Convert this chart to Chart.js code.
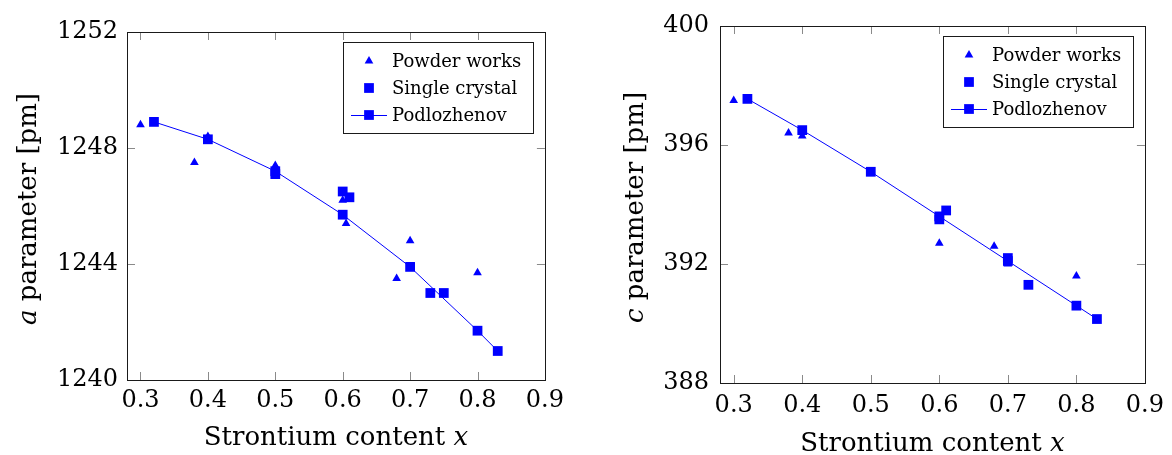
<!DOCTYPE html>
<html>
<head>
<meta charset="utf-8">
<script src="https://cdn.jsdelivr.net/npm/chart.js@4.4.1/dist/chart.umd.min.js"></script>
<style>
    html, body { margin: 0; padding: 0; background: #fff; }
    body { width: 1172px; height: 455px; position: relative; overflow: hidden; }
    canvas { position: absolute; top: 0; }
</style>
</head>
<body>
<canvas id="chartA" width="570" height="455" style="left: 0px;"></canvas>
<canvas id="chartC" width="572" height="455" style="left: 600px;"></canvas>
<script>
// Strontium content x for each series
const podX = [0.32, 0.40, 0.50, 0.60, 0.70, 0.80, 0.83];

// a parameter [pm]
const aPowderX = [0.30, 0.38, 0.40, 0.50, 0.60, 0.605, 0.68, 0.70, 0.80];
const aPowderY = [1248.8, 1247.5, 1248.4, 1247.4, 1246.2, 1245.4, 1243.5, 1244.8, 1243.7];
const aSingleX = [0.50, 0.60, 0.61, 0.73, 0.75];
const aSingleY = [1247.1, 1246.5, 1246.3, 1243.0, 1243.0];
const aPodY = [1248.9, 1248.3, 1247.2, 1245.7, 1243.9, 1241.7, 1241.0];

// c parameter [pm]
const cPowderX = [0.30, 0.38, 0.40, 0.60, 0.68, 0.70, 0.80];
const cPowderY = [397.5, 396.4, 396.3, 392.7, 392.6, 392.0, 391.6];
const cSingleX = [0.60, 0.61, 0.70, 0.73];
const cSingleY = [393.5, 393.8, 392.2, 391.3];
const cPodY = [397.55, 396.5, 395.1, 393.6, 392.1, 390.6, 390.15];

const xTicks = [0.3, 0.4, 0.5, 0.6, 0.7, 0.8, 0.9];
const aTicks = [1240, 1244, 1248, 1252];
const cTicks = [388, 392, 396, 400];

const seriesNames = ['Powder works', 'Single crystal', 'Podlozhenov'];

const BLUE = '#0000ff';
const FONT = "'DejaVu Serif', 'Liberation Serif', serif";

const toPoints = (xs, ys) => xs.map((x, i) => ({ x, y: ys[i] }));

// frame, inward tick marks, axis titles with italic symbols, boxed legend
const decorPlugin = {
    id: 'decor',
    afterDraw(chart, args, opts) {
        const { ctx, chartArea: area, scales } = chart;
        const px = (v) => Math.round(v) + 0.5;

        ctx.save();
        // tick marks (inside the frame, on both sides)
        ctx.strokeStyle = '#8a8a8a';
        ctx.lineWidth = 1;
        ctx.beginPath();
        scales.x.ticks.forEach((t) => {
            const x = px(scales.x.getPixelForValue(t.value));
            if (x <= area.left + 1 || x >= area.right - 1) return;
            ctx.moveTo(x, area.bottom);
            ctx.lineTo(x, area.bottom - 8);
            ctx.moveTo(x, area.top);
            ctx.lineTo(x, area.top + 8);
        });
        scales.y.ticks.forEach((t) => {
            const y = px(scales.y.getPixelForValue(t.value));
            if (y <= area.top + 1 || y >= area.bottom - 1) return;
            ctx.moveTo(area.left, y);
            ctx.lineTo(area.left + 8, y);
            ctx.moveTo(area.right, y);
            ctx.lineTo(area.right - 8, y);
        });
        ctx.stroke();

        // frame
        ctx.strokeStyle = '#1a1a1a';
        ctx.strokeRect(px(area.left), px(area.top), Math.round(area.right - area.left), Math.round(area.bottom - area.top));

        // x title
        ctx.fillStyle = '#000';
        ctx.textBaseline = 'alphabetic';
        const normal = `26px ${FONT}`;
        const italic = `italic 26px ${FONT}`;
        ctx.font = normal;
        const xw1 = ctx.measureText(opts.xTitle[0]).width;
        ctx.font = italic;
        const xw2 = ctx.measureText(opts.xTitle[1]).width;
        const sx = (area.left + area.right) / 2 - (xw1 + xw2) / 2;
        ctx.textAlign = 'left';
        ctx.font = normal;
        ctx.fillText(opts.xTitle[0], sx, opts.xTitleY);
        ctx.font = italic;
        ctx.fillText(opts.xTitle[1], sx + xw1, opts.xTitleY);

        // y title (rotated)
        ctx.font = italic;
        const yw1 = ctx.measureText(opts.yTitle[0]).width;
        ctx.font = normal;
        const yw2 = ctx.measureText(opts.yTitle[1]).width;
        ctx.save();
        ctx.translate(opts.yTitleX, (area.top + area.bottom) / 2 + 3);
        ctx.rotate(-Math.PI / 2);
        const sy = -(yw1 + yw2) / 2;
        ctx.font = italic;
        ctx.fillText(opts.yTitle[0], sy, 0);
        ctx.font = normal;
        ctx.fillText(opts.yTitle[1], sy + yw1, 0);
        ctx.restore();

        // legend box
        ctx.font = `18px ${FONT}`;
        const textW = Math.max(...seriesNames.map((n) => ctx.measureText(n).width));
        const boxW = Math.round(49 + textW + 12);
        const boxH = 91;
        const bx = Math.round(area.right - 12 - boxW);
        const by = Math.round(area.top + 10);
        ctx.fillStyle = '#fff';
        ctx.fillRect(bx, by, boxW, boxH);
        ctx.strokeStyle = '#1a1a1a';
        ctx.strokeRect(bx + 0.5, by + 0.5, boxW, boxH);

        const rows = [by + 19, by + 46, by + 73];
        chart.data.datasets.forEach((ds, i) => {
            const cy = rows[i];
            const cx = bx + 26;
            if (ds.showLine) {
                ctx.strokeStyle = ds.borderColor;
                ctx.lineWidth = 1;
                ctx.beginPath();
                ctx.moveTo(bx + 8, Math.round(cy) + 0.5);
                ctx.lineTo(bx + 44, Math.round(cy) + 0.5);
                ctx.stroke();
            }
            ctx.fillStyle = ds.pointBackgroundColor;
            ctx.beginPath();
            if (ds.pointStyle === 'triangle') {
                const r = ds.pointRadius;
                ctx.moveTo(cx, cy - r);
                ctx.lineTo(cx + r * 0.866, cy + r * 0.5);
                ctx.lineTo(cx - r * 0.866, cy + r * 0.5);
                ctx.closePath();
            } else {
                const h = ds.pointRadius * Math.SQRT1_2;
                ctx.rect(cx - h, cy - h, 2 * h, 2 * h);
            }
            ctx.fill();
            ctx.fillStyle = '#000';
            ctx.textBaseline = 'middle';
            ctx.fillText(seriesNames[i], bx + 49, cy + 1);
        });
        ctx.restore();
    },
};

const makeChart = (id, cfg) => {
    const datasets = [
        {
            label: seriesNames[0],
            data: toPoints(cfg.powderX, cfg.powderY),
            pointStyle: 'triangle',
            pointRadius: 5,
            pointBackgroundColor: BLUE,
            pointBorderWidth: 0,
            borderColor: BLUE,
            showLine: false,
            order: 3,
        },
        {
            label: seriesNames[1],
            data: toPoints(cfg.singleX, cfg.singleY),
            pointStyle: 'rect',
            pointRadius: 6.9,
            pointBackgroundColor: BLUE,
            pointBorderWidth: 0,
            borderColor: BLUE,
            showLine: false,
            order: 2,
        },
        {
            label: seriesNames[2],
            data: toPoints(podX, cfg.podY),
            pointStyle: 'rect',
            pointRadius: 6.9,
            pointBackgroundColor: BLUE,
            pointBorderWidth: 0,
            borderColor: BLUE,
            borderWidth: 1,
            showLine: true,
            tension: 0,
            order: 1,
        },
    ];

    return new Chart(document.getElementById(id), {
        type: 'scatter',
        data: { datasets },
        options: {
            responsive: false,
            animation: false,
            devicePixelRatio: 1,
            layout: { padding: { top: cfg.top, right: cfg.right, left: 0, bottom: 0 } },
            plugins: {
                legend: { display: false },
                tooltip: { enabled: false },
                decor: {
                    xTitle: ['Strontium content ', 'x'],
                    yTitle: cfg.yTitle,
                    xTitleY: cfg.xTitleY,
                    yTitleX: cfg.yTitleX,
                },
            },
            scales: {
                x: {
                    type: 'linear',
                    min: 0.28,
                    max: 0.9,
                    grid: { display: false, drawTicks: false },
                    border: { display: false },
                    afterBuildTicks: (scale) => {
                        scale.ticks = xTicks.map((value) => ({ value }));
                    },
                    afterFit: (scale) => {
                        scale.height = cfg.xHeight;
                    },
                    ticks: {
                        color: '#000',
                        padding: cfg.xPad,
                        maxRotation: 0,
                        font: { family: FONT, size: 24 },
                        callback: (value) => Number(value).toFixed(1),
                    },
                },
                y: {
                    type: 'linear',
                    min: cfg.yTicks[0],
                    max: cfg.yTicks[cfg.yTicks.length - 1],
                    grid: { display: false, drawTicks: false },
                    border: { display: false },
                    afterBuildTicks: (scale) => {
                        scale.ticks = cfg.yTicks.map((value) => ({ value }));
                    },
                    afterFit: (scale) => {
                        scale.width = cfg.yWidth;
                    },
                    ticks: {
                        color: '#000',
                        padding: cfg.yPad,
                        font: { family: FONT, size: 24 },
                        callback: (value) => String(value),
                    },
                },
            },
        },
        plugins: [decorPlugin],
    });
};

makeChart('chartA', {
    powderX: aPowderX, powderY: aPowderY,
    singleX: aSingleX, singleY: aSingleY,
    podY: aPodY,
    yTicks: aTicks,
    yTitle: ['a', ' parameter [pm]'],
    top: 32, right: 24, yWidth: 127, xHeight: 75,
    xPad: 6, yPad: 9,
    xTitleY: 445, yTitleX: 36,
});

makeChart('chartC', {
    powderX: cPowderX, powderY: cPowderY,
    singleX: cSingleX, singleY: cSingleY,
    podY: cPodY,
    yTicks: cTicks,
    yTitle: ['c', ' parameter [pm]'],
    top: 26, right: 22, yWidth: 120, xHeight: 72,
    xPad: 8, yPad: 11,
    xTitleY: 451, yTitleX: 43,
});
</script>
</body>
</html>
